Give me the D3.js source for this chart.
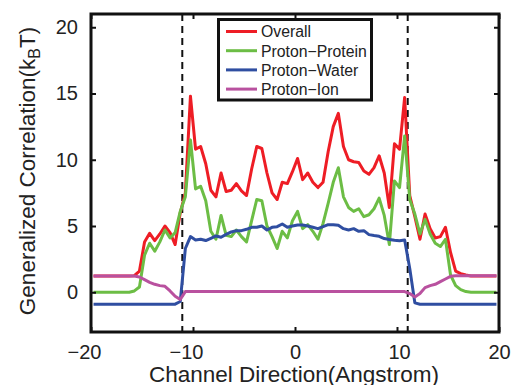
<!DOCTYPE html>
<html><head><meta charset="utf-8">
<script src="https://cdn.jsdelivr.net/npm/d3@7"></script>
<style>
html,body{margin:0;padding:0;background:#fff;}
svg{display:block;font-family:"Liberation Sans",Arial,sans-serif;}
</style></head>
<body><svg id="c" width="513" height="385"></svg>
<script>
// x positions (Angstrom): bin centres -19.75 ... 19.75 step 0.5
const xPos = d3.range(80).map(i => -19.75 + 0.5 * i);
const overall = [1.23,1.23,1.23,1.23,1.23,1.23,1.23,1.23,1.25,1.6,
  3.8,4.45,3.9,4.4,5.0,4.5,3.6,6.0,7.5,14.8,
  10.8,11.0,9.7,7.7,7.2,9.0,7.6,7.7,8.2,7.65,
  7.3,9.3,11.0,10.85,9.0,7.5,7.0,8.3,8.2,9.1,
  10.1,8.5,9.0,8.3,7.9,8.3,10.6,12.5,13.5,11.0,
  10.0,9.85,9.8,9.15,8.9,9.4,10.3,9.0,6.4,11.2,
  10.8,14.7,7.3,5.7,4.0,5.9,4.8,4.1,4.2,4.9,
  3.0,1.6,1.4,1.3,1.23,1.23,1.23,1.23,1.23,1.23];
const protonProtein = [0,0,0,0,0,0,0,0,0.1,0.4,
  2.8,3.7,3.1,3.8,4.7,4.1,4.5,6.1,7.2,11.5,
  7.8,8.0,6.9,4.6,4.0,5.8,4.3,4.2,4.7,4.2,
  3.8,5.4,7.0,6.9,5.0,4.2,3.3,4.6,4.1,5.4,
  6.1,4.8,5.1,4.6,4.0,5.2,6.7,8.3,9.4,7.2,
  6.4,6.1,6.3,5.7,5.85,6.3,7.1,5.8,3.6,8.4,
  7.9,11.8,7.0,5.9,4.4,5.5,4.4,3.7,3.45,4.0,
  1.3,0.5,0.2,0.05,0,0,0,0,0,0];
const protonWater = [-0.9,-0.9,-0.9,-0.9,-0.9,-0.9,-0.9,-0.9,-0.9,-0.9,
  -0.9,-0.9,-0.9,-0.9,-0.9,-0.9,-0.9,-0.7,3.3,4.2,
  3.95,4.0,3.9,4.07,4.25,4.15,4.37,4.55,4.65,4.65,
  4.75,4.9,4.9,5.0,4.7,4.9,4.95,5.15,4.9,5.0,
  5.07,5.07,5.0,4.9,4.8,4.95,5.1,5.1,5.05,4.8,
  4.7,4.8,4.6,4.65,4.35,4.28,4.22,4.05,3.98,3.92,
  3.88,3.94,1.8,-0.8,-0.9,-0.9,-0.9,-0.9,-0.9,-0.9,
  -0.9,-0.9,-0.9,-0.9,-0.9,-0.9,-0.9,-0.9,-0.9,-0.9];
const protonIon = [1.23,1.23,1.23,1.23,1.23,1.23,1.23,1.23,1.23,1.15,
  0.95,0.75,0.6,0.5,0.45,0.1,-0.3,-0.55,0.05,0.05,
  0.05,0.05,0.05,0.05,0.05,0.05,0.05,0.05,0.05,0.05,
  0.05,0.05,0.05,0.05,0.05,0.05,0.05,0.05,0.05,0.05,
  0.05,0.05,0.05,0.05,0.05,0.05,0.05,0.05,0.05,0.05,
  0.05,0.05,0.05,0.05,0.05,0.05,0.05,0.05,0.05,0.05,
  0.05,0.05,-0.1,-0.35,-0.1,0.35,0.5,0.6,0.8,1.0,
  1.2,1.25,1.25,1.25,1.25,1.25,1.25,1.25,1.25,1.25];
const seriesNames = ["Overall","Proton\u2212Protein","Proton\u2212Water","Proton\u2212Ion"];
const seriesColors = ["#ee1d25","#6cbd45","#2f4ea1","#b9519f"];
const xTicks = [-20,-10,0,10,20];
const yTicks = [0,5,10,15,20];
const channelEdges = [-11.05, 11.05];
const xLabel = "Channel Direction(Angstrom)";

const svg = d3.select("#c");
const L = 91, R = 499, T = 14, B = 332;
const x = d3.scaleLinear().domain([-20,20]).range([L,R]);
const y = d3.scaleLinear().domain([-3,21]).range([B,T]);
const allSeries = [overall, protonProtein, protonWater, protonIon];

// channel edges (dashed)
svg.selectAll("line.edge").data(channelEdges).enter().append("line")
  .attr("x1", d=>x(d)).attr("x2", d=>x(d)).attr("y1", T).attr("y2", B)
  .attr("stroke","#111").attr("stroke-width",2).attr("stroke-dasharray","7,5");

const line = d3.line().x((d,i)=>x(xPos[i])).y(d=>y(d));
allSeries.forEach((s,k)=>{
  svg.append("path").datum(s).attr("d", line).attr("fill","none")
    .attr("stroke", seriesColors[k]).attr("stroke-width",3).attr("stroke-linejoin","round");
});

// axes with inward ticks
const tickFmt = d => d < 0 ? "\u2212" + Math.abs(d) : String(d);
const gx = svg.append("g").attr("transform",`translate(0,${B})`)
  .call(d3.axisBottom(x).tickValues(xTicks).tickSize(-5).tickPadding(13).tickFormat(tickFmt));
gx.selectAll(".tick text").attr("dx", d => d < 0 ? -7 : (d === 10 ? 2 : 0));
const gxt = svg.append("g").attr("transform",`translate(0,${T})`)
  .call(d3.axisTop(x).tickValues(xTicks).tickSize(-5).tickFormat(""));
const gy = svg.append("g").attr("transform",`translate(${L},0)`)
  .call(d3.axisLeft(y).tickValues(yTicks).tickSize(-5).tickPadding(13).tickFormat(tickFmt));
const gyr = svg.append("g").attr("transform",`translate(${R},0)`)
  .call(d3.axisRight(y).tickValues(yTicks).tickSize(-5).tickFormat(""));
[gx,gxt,gy,gyr].forEach(g=>{
  g.select(".domain").remove();
  g.selectAll(".tick line").attr("stroke","#111").attr("stroke-width",2);
  g.selectAll("text").attr("font-size",20).attr("fill","#222")
    .attr("font-family","'Liberation Sans',Arial,sans-serif");
});
svg.append("rect").attr("x",L).attr("y",T).attr("width",R-L).attr("height",B-T)
  .attr("fill","none").attr("stroke","#111").attr("stroke-width",3);

// axis labels
svg.append("text").attr("x",(L+R)/2 - 1).attr("y",382).attr("text-anchor","middle")
  .attr("font-size",22.5).attr("fill","#222").text(xLabel);
const yl = svg.append("text").attr("transform",`translate(35,${(T+B)/2 - 2}) rotate(-90)`)
  .attr("text-anchor","middle").attr("font-size",22.5).attr("fill","#222");
yl.append("tspan").text("Generalized Correlation(k");
yl.append("tspan").attr("font-size",16).attr("dy",5).text("B");
yl.append("tspan").attr("dy",-5).text("T)");

// legend
const lg = svg.append("g");
lg.append("rect").attr("x",218.5).attr("y",19.5).attr("width",153).attr("height",80.5)
  .attr("fill","#fff").attr("stroke","#111").attr("stroke-width",3);
seriesNames.forEach((n,k)=>{
  const yy = 31.5 + k*19.2;
  lg.append("line").attr("x1",226).attr("x2",257).attr("y1",yy).attr("y2",yy)
    .attr("stroke",seriesColors[k]).attr("stroke-width",3);
  lg.append("text").attr("x",261).attr("y",yy+5.8).attr("font-size",15.8).attr("fill","#222").text(n);
});
</script></body></html>
